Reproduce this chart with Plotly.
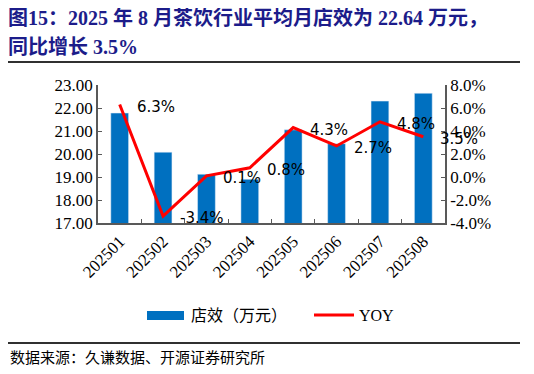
import plotly.graph_objects as go

months = ["202501", "202502", "202503", "202504", "202505", "202506", "202507", "202508"]
store_eff = [21.78, 20.08, 19.12, 18.90, 21.05, 20.45, 22.30, 22.64]
yoy = [6.3, -3.4, 0.1, 0.8, 4.3, 2.7, 4.8, 3.5]
yoy_labels = ["6.3%", "-3.4%", "0.1%", "0.8%", "4.3%", "2.7%", "4.8%", "3.5%"]
left_ticks = [17, 18, 19, 20, 21, 22, 23]
right_ticks = [-4, -2, 0, 2, 4, 6, 8]
right_ticktext = ["-4.0%", "-2.0%", "0.0%", "2.0%", "4.0%", "6.0%", "8.0%"]

W_FIG, H_FIG = 534, 374
OFF = 8  # default page body margin offsets the figure by 8px
L, R, T, B = 98, 445, 85, 223  # target plot area in window pixels
PW, PH = R - L, B - T


def px(x):
    return (x - L) / PW


def py(y):
    return (B - y) / PH


BLUE = "#0070C0"
RED = "#FF0000"
NAVY = "#1C1C8A"
SERIF = "Liberation Serif, Noto Sans CJK SC"
AXIS_COLOR = "#595959"
RULE = "#303030"

fig = go.Figure()
fig.add_trace(go.Bar(x=months, y=store_eff, name="店效（万元）", marker_color=BLUE,
                     width=0.41, yaxis="y"))
fig.add_trace(go.Scatter(x=months, y=yoy, name="YOY", mode="lines",
                         line=dict(color=RED, width=3), yaxis="y2"))

for i, (v, t) in enumerate(zip(yoy, yoy_labels)):
    fig.add_annotation(x=i, y=v, xref="x", yref="y2", text=t, showarrow=False,
                       xanchor="left", yanchor="middle", xshift=15, yshift=-2,
                       font=dict(family="DejaVu Sans", size=15, color="black"))

fig.update_layout(
    width=W_FIG, height=H_FIG,
    margin=dict(l=L - OFF, r=W_FIG - R + OFF, t=T - OFF, b=H_FIG - B + OFF, pad=0),
    paper_bgcolor="white", plot_bgcolor="white",
    showlegend=False,
    xaxis=dict(type="category", range=[-0.5, len(months) - 0.5], tickangle=-45,
               tickson="boundaries", ticks="inside",
               ticklen=4, tickcolor=AXIS_COLOR, showline=True, linecolor=AXIS_COLOR,
               linewidth=1.5, showgrid=False,
               tickfont=dict(family=SERIF, size=17, color="black")),
    yaxis=dict(range=[17, 23], tickvals=left_ticks, tickformat=".2f", ticks="inside",
               ticklen=4, tickcolor=AXIS_COLOR, showline=True, linecolor=AXIS_COLOR,
               linewidth=1.5, showgrid=False, zeroline=False,
               tickfont=dict(family=SERIF, size=17, color="black")),
    yaxis2=dict(range=[-4, 8], overlaying="y", side="right", tickvals=right_ticks,
                ticktext=right_ticktext, ticks="inside", ticklen=4, tickcolor=AXIS_COLOR,
                showline=True, linecolor=AXIS_COLOR, linewidth=1.5, showgrid=False,
                zeroline=False, tickfont=dict(family=SERIF, size=17, color="black")),
)

# Title
title_font = dict(family="Liberation Serif, Noto Sans CJK SC", size=20, color=NAVY)
fig.add_annotation(x=px(6), y=py(18), xref="paper", yref="paper", showarrow=False,
                   xanchor="left", yanchor="middle",
                   text="<b>图15：2025 年 8 月茶饮行业平均月店效为 22.64 万元，</b>", font=title_font)
fig.add_annotation(x=px(6), y=py(47), xref="paper", yref="paper", showarrow=False,
                   xanchor="left", yanchor="middle",
                   text="<b>同比增长 3.5%</b>", font=title_font)
fig.add_shape(type="line", xref="paper", yref="paper", x0=px(8), x1=px(520),
              y0=py(62), y1=py(62), line=dict(color=RULE, width=2), layer="above")

# Legend (manual)
fig.add_shape(type="rect", xref="paper", yref="paper", x0=px(147), x1=px(184),
              y0=py(320), y1=py(311), fillcolor=BLUE, line=dict(width=0))
fig.add_annotation(x=px(189), y=py(315), xref="paper", yref="paper", showarrow=False,
                   xanchor="left", yanchor="middle", text="店效（万元）",
                   font=dict(family=SERIF, size=16, color="black"))
fig.add_shape(type="line", xref="paper", yref="paper", x0=px(314), x1=px(354),
              y0=py(315), y1=py(315), line=dict(color=RED, width=3))
fig.add_annotation(x=px(357), y=py(315), xref="paper", yref="paper", showarrow=False,
                   xanchor="left", yanchor="middle", text="YOY",
                   font=dict(family=SERIF, size=16, color="black"))

# Source
fig.add_shape(type="line", xref="paper", yref="paper", x0=px(8), x1=px(520),
              y0=py(343), y1=py(343), line=dict(color=RULE, width=2), layer="above")
fig.add_annotation(x=px(8), y=py(358), xref="paper", yref="paper", showarrow=False,
                   xanchor="left", yanchor="middle", text="数据来源：久谦数据、开源证券研究所",
                   font=dict(family=SERIF, size=15, color="black"))

fig.write_html("out.html")
